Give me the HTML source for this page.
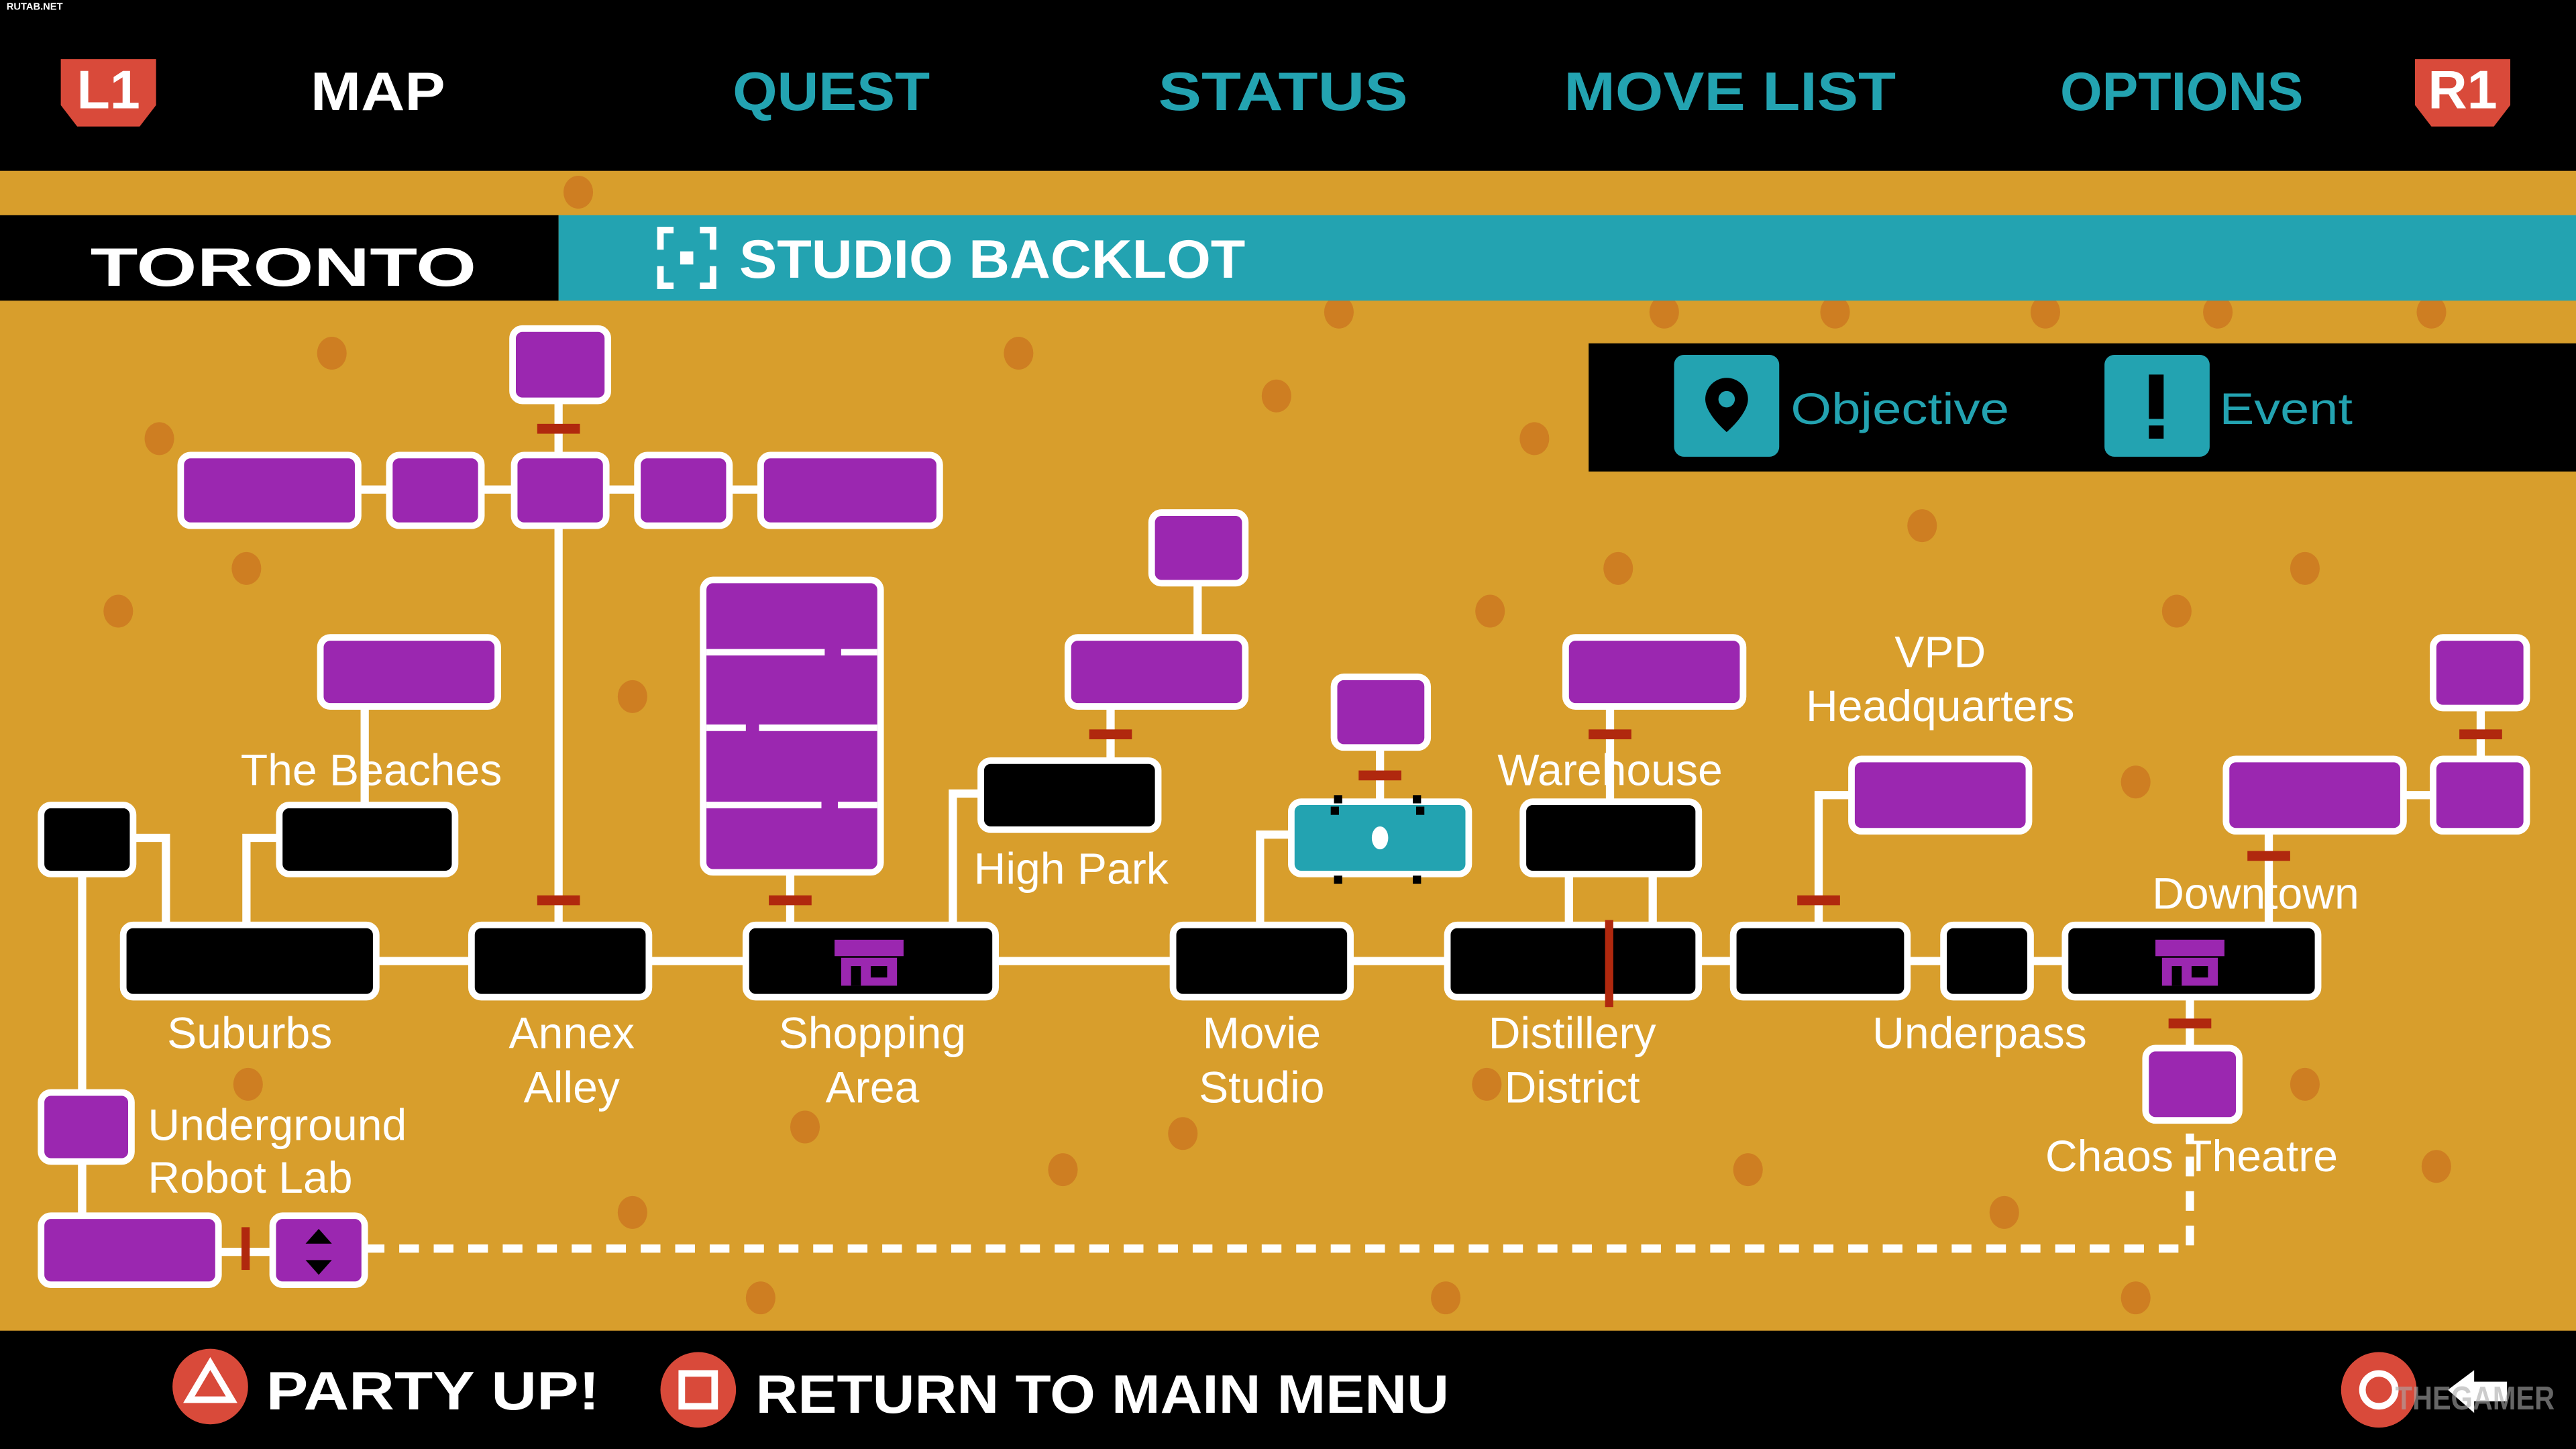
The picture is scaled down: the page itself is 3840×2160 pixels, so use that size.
<!DOCTYPE html>
<html><head><meta charset="utf-8"><style>
html,body{margin:0;padding:0;background:#D89E2C;overflow:hidden}
svg{display:block;width:3840px;height:2160px}
.t{font-family:"Liberation Sans",sans-serif;fill:#fff;font-size:27px}
.m{font-family:"Liberation Sans",sans-serif;font-weight:bold;font-size:33px}
</style></head><body>
<svg viewBox="0 0 1568 882" preserveAspectRatio="none" xmlns="http://www.w3.org/2000/svg">
<rect width="1568" height="882" fill="#D89E2C"/>
<g fill="#CE7E22">
<ellipse cx="202" cy="215" rx="9" ry="10"/><ellipse cx="620" cy="215" rx="9" ry="10"/><ellipse cx="777" cy="241" rx="9" ry="10"/><ellipse cx="934" cy="267" rx="9" ry="10"/><ellipse cx="97" cy="267" rx="9" ry="10"/><ellipse cx="150" cy="346" rx="9" ry="10"/><ellipse cx="72" cy="372" rx="9" ry="10"/><ellipse cx="385" cy="424" rx="9" ry="10"/><ellipse cx="907" cy="372" rx="9" ry="10"/><ellipse cx="985" cy="346" rx="9" ry="10"/><ellipse cx="1170" cy="320" rx="9" ry="10"/><ellipse cx="1403" cy="346" rx="9" ry="10"/><ellipse cx="1325" cy="372" rx="9" ry="10"/><ellipse cx="1300" cy="476" rx="9" ry="10"/><ellipse cx="1403" cy="660" rx="9" ry="10"/><ellipse cx="1483" cy="710" rx="9" ry="10"/><ellipse cx="1220" cy="738" rx="9" ry="10"/><ellipse cx="1064" cy="712" rx="9" ry="10"/><ellipse cx="905" cy="660" rx="9" ry="10"/><ellipse cx="647" cy="712" rx="9" ry="10"/><ellipse cx="490" cy="686" rx="9" ry="10"/><ellipse cx="151" cy="660" rx="9" ry="10"/><ellipse cx="385" cy="738" rx="9" ry="10"/><ellipse cx="463" cy="790" rx="9" ry="10"/><ellipse cx="880" cy="790" rx="9" ry="10"/><ellipse cx="1300" cy="790" rx="9" ry="10"/><ellipse cx="1117" cy="190" rx="9" ry="10"/><ellipse cx="1013" cy="190" rx="9" ry="10"/><ellipse cx="815" cy="190" rx="9" ry="10"/><ellipse cx="1480" cy="190" rx="9" ry="10"/><ellipse cx="1350" cy="190" rx="9" ry="10"/><ellipse cx="352" cy="117" rx="9" ry="10"/><ellipse cx="1245" cy="190" rx="9" ry="10"/><ellipse cx="720" cy="690" rx="9" ry="10"/>
</g>
<rect x="0" y="0" width="1568" height="104" fill="#000"/>
<text x="4" y="6" font-family="Liberation Sans" font-size="6" fill="#fff" font-weight="bold">RUTAB.NET</text>
<path d="M37 36 h58 v28 l-10 13 h-38 l-10 -13z" fill="#D94A3A"/>
<text x="66" y="66" text-anchor="middle" class="m" fill="#fff" font-size="28">L1</text>
<path d="M1470 36 h58 v28 l-10 13 h-38 l-10 -13z" fill="#D94A3A"/>
<text x="1499" y="66" text-anchor="middle" class="m" fill="#fff" font-size="28">R1</text>
<text x="189" y="67" class="m" fill="#fff" textLength="82" lengthAdjust="spacingAndGlyphs">MAP</text>
<text x="446" y="67" class="m" fill="#23A3B1" textLength="120" lengthAdjust="spacingAndGlyphs">QUEST</text>
<text x="705" y="67" class="m" fill="#23A3B1" textLength="152" lengthAdjust="spacingAndGlyphs">STATUS</text>
<text x="952" y="67" class="m" fill="#23A3B1" textLength="202" lengthAdjust="spacingAndGlyphs">MOVE LIST</text>
<text x="1254" y="67" class="m" fill="#23A3B1" textLength="148" lengthAdjust="spacingAndGlyphs">OPTIONS</text>
<rect x="0" y="131" width="340" height="52" fill="#000"/>
<rect x="340" y="131" width="1228" height="52" fill="#23A3B1"/>
<text x="55" y="174" class="m" fill="#fff" font-size="46" textLength="235" lengthAdjust="spacingAndGlyphs">TORONTO</text>
<g fill="none" stroke="#fff" stroke-width="4"><path d="M410 140h-8v12M410 174h-8v-12M426 140h8v12M426 174h8v-12"/></g>
<rect x="414" y="153" width="8" height="8" fill="#fff"/>
<text x="450" y="169" class="m" fill="#fff" font-size="32" textLength="308" lengthAdjust="spacingAndGlyphs">STUDIO BACKLOT</text>
<rect x="967" y="209" width="601" height="78" fill="#000"/>
<rect x="1019" y="216" width="64" height="62" rx="6" fill="#23A3B1"/>
<path d="M1051 230a13 13 0 0 1 13 13c0 9-13 20-13 20s-13-11-13-20a13 13 0 0 1 13-13z" fill="#000"/><circle cx="1051" cy="243" r="5" fill="#23A3B1"/>
<text x="1090" y="258" class="t" style="fill:#23A3B1" font-size="29" textLength="133" lengthAdjust="spacingAndGlyphs">Objective</text>
<rect x="1281" y="216" width="64" height="62" rx="6" fill="#23A3B1"/>
<rect x="1308" y="228" width="9" height="27" fill="#000"/><rect x="1308" y="259" width="9" height="8" fill="#000"/>
<text x="1351" y="258" class="t" style="fill:#23A3B1" font-size="29" textLength="81" lengthAdjust="spacingAndGlyphs">Event</text>
<g stroke="#fff" stroke-width="5" fill="none">
<path d="M340 244V563"/>
<path d="M218 298h200M444 298h20"/>
<path d="M222 430v60"/>
<path d="M81 510h20v53M170 510h-20v53"/>
<path d="M50 532v208"/>
<path d="M481 531v32"/>
<path d="M729 355v33M676 430v33"/>
<path d="M597 483h-17v80"/>
<path d="M840 455v33"/>
<path d="M786 508h-19v55"/>
<path d="M980 430v58M955 532v31M1006 532v31"/>
<path d="M1127 484h-20v79"/>
<path d="M1510 431v31M1463 484h18M1381 506v57"/>
<path d="M1333 607v31"/>
<path d="M229 585h58M395 585h59M606 585h108M822 585h59M1034 585h21M1161 585h22M1236 585h21"/>
<path d="M50 707v33M133 762h33"/>
</g>
<path d="M222 760H1333V690" stroke="#fff" stroke-width="5" fill="none" stroke-dasharray="12 9"/>
<g stroke="#fff" stroke-width="4">
<g fill="#9B27B0">
<rect x="312" y="200" width="58" height="44" rx="6"/>
<rect x="110" y="277" width="108" height="43" rx="6"/><rect x="237" y="277" width="56" height="43" rx="6"/><rect x="313" y="277" width="56" height="43" rx="6"/><rect x="388" y="277" width="56" height="43" rx="6"/><rect x="463" y="277" width="109" height="43" rx="6"/>
<rect x="195" y="388" width="108" height="42" rx="6"/>
<rect x="428" y="353" width="108" height="178" rx="6"/>
<rect x="701" y="312" width="57" height="43" rx="6"/><rect x="650" y="388" width="108" height="42" rx="6"/>
<rect x="812" y="412" width="57" height="43" rx="6"/>
<rect x="953" y="388" width="108" height="42" rx="6"/>
<rect x="1127" y="462" width="108" height="44" rx="6"/>
<rect x="1481" y="388" width="57" height="43" rx="6"/><rect x="1481" y="462" width="57" height="44" rx="6"/><rect x="1355" y="462" width="108" height="44" rx="6"/>
<rect x="1306" y="638" width="57" height="44" rx="6"/>
<rect x="25" y="665" width="55" height="42" rx="6"/><rect x="25" y="740" width="108" height="42" rx="6"/><rect x="166" y="740" width="56" height="42" rx="6"/>
</g>
<g fill="#000">
<rect x="25" y="490" width="56" height="42" rx="6"/><rect x="170" y="490" width="107" height="42" rx="6"/>
<rect x="597" y="463" width="108" height="42" rx="6"/>
<rect x="927" y="488" width="107" height="44" rx="6"/>
<rect x="75" y="563" width="154" height="44" rx="6"/><rect x="287" y="563" width="108" height="44" rx="6"/><rect x="454" y="563" width="152" height="44" rx="6"/><rect x="714" y="563" width="108" height="44" rx="6"/><rect x="881" y="563" width="153" height="44" rx="6"/><rect x="1055" y="563" width="106" height="44" rx="6"/><rect x="1183" y="563" width="53" height="44" rx="6"/><rect x="1257" y="563" width="154" height="44" rx="6"/>
</g>
<rect x="786" y="488" width="108" height="44" rx="6" fill="#23A3B1"/>
</g>
<g fill="#000"><rect x="812" y="484" width="5" height="5"/><rect x="860" y="484" width="5" height="5"/><rect x="810" y="491" width="5" height="5"/><rect x="862" y="491" width="5" height="5"/><rect x="812" y="533" width="5" height="5"/><rect x="860" y="533" width="5" height="5"/></g>
<g stroke="#fff" stroke-width="4"><path d="M430 397h72M512 397h22M430 443h24M462 443h72M430 490h70M510 490h24"/></g>
<ellipse cx="840" cy="510" rx="5" ry="7" fill="#fff"/>
<g fill="#B0280E">
<rect x="327" y="258" width="26" height="6"/><rect x="327" y="545" width="26" height="6"/><rect x="468" y="545" width="26" height="6"/>
<rect x="663" y="444" width="26" height="6"/><rect x="827" y="469" width="26" height="6"/><rect x="967" y="444" width="26" height="6"/>
<rect x="1094" y="545" width="26" height="6"/><rect x="1497" y="444" width="26" height="6"/><rect x="1368" y="518" width="26" height="6"/><rect x="1320" y="620" width="26" height="6"/>
<rect x="977" y="560" width="5" height="53"/><rect x="147" y="747" width="5" height="26"/>
</g>
<g fill="#9B27B0"><path d="M508 572h42v10h-42z"/><rect x="512" y="583" width="34" height="17"/><rect x="1312" y="572" width="42" height="10"/><rect x="1316" y="583" width="34" height="17"/></g>
<g fill="#000"><rect x="518" y="588" width="6" height="12"/><rect x="530" y="588" width="10" height="7"/><rect x="1322" y="588" width="6" height="12"/><rect x="1334" y="588" width="10" height="7"/></g>
<path d="M194 748l-8 9h16zM194 776l-8-9h16z" fill="#000"/>
<g class="t" text-anchor="middle">
<text x="226" y="478">The Beaches</text>
<text x="652" y="538">High Park</text>
<text x="980" y="478">Warehouse</text>
<text x="1181" y="406">VPD</text><text x="1181" y="439">Headquarters</text>
<text x="1373" y="553">Downtown</text>
<text x="152" y="638">Suburbs</text>
<text x="348" y="638">Annex</text><text x="348" y="671">Alley</text>
<text x="531" y="638">Shopping</text><text x="531" y="671">Area</text>
<text x="768" y="638">Movie</text><text x="768" y="671">Studio</text>
<text x="957" y="638">Distillery</text><text x="957" y="671">District</text>
<text x="1205" y="638">Underpass</text>
<text x="1334" y="713">Chaos Theatre</text>
</g>
<g class="t"><text x="90" y="694">Underground</text><text x="90" y="726">Robot Lab</text></g>
<rect x="0" y="810" width="1568" height="72" fill="#000"/>
<circle cx="128" cy="844" r="23" fill="#D94A3A"/><path d="M128 830l-13 22h26z" fill="none" stroke="#fff" stroke-width="4"/>
<text x="162" y="858" class="m" fill="#fff" font-size="36" textLength="203" lengthAdjust="spacingAndGlyphs">PARTY UP!</text>
<circle cx="425" cy="846" r="23" fill="#D94A3A"/><rect x="415" y="836" width="20" height="20" fill="none" stroke="#fff" stroke-width="4"/>
<text x="460" y="860" class="m" fill="#fff" font-size="34" textLength="422" lengthAdjust="spacingAndGlyphs">RETURN TO MAIN MENU</text>
<circle cx="1448" cy="846" r="23" fill="#D94A3A"/><circle cx="1448" cy="846" r="10" fill="none" stroke="#fff" stroke-width="4"/>
<path d="M1490 846l16-12v7h20v12h-20v7z" fill="#fff"/>
<text x="1458" y="858" font-family="Liberation Sans" font-size="20" fill="#aaa" fill-opacity="0.6" font-weight="bold" textLength="97" lengthAdjust="spacingAndGlyphs">THEGAMER</text>
</svg>
</body></html>
